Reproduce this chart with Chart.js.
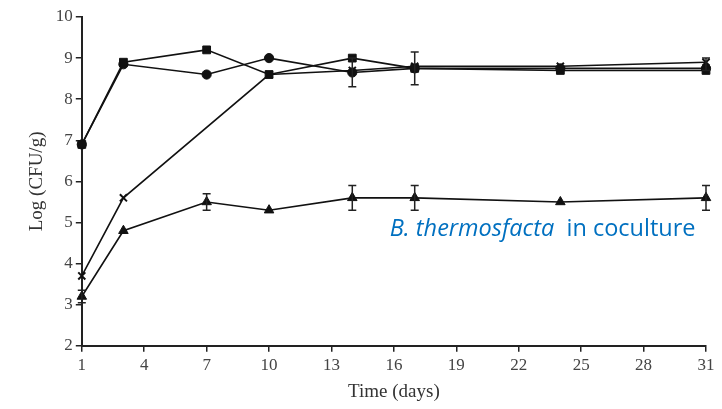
<!DOCTYPE html>
<html>
<head>
<meta charset="utf-8">
<script src="https://cdn.jsdelivr.net/npm/chart.js@4"></script>
<style>
  html, body { margin: 0; padding: 0; background: #fff; }
  #wrap { width: 722px; height: 409px; position: relative; }
</style>
</head>
<body>
<div id="wrap"><canvas id="c"></canvas></div>
<script>
// days and tick labels
const xTicks = [1, 4, 7, 10, 13, 16, 19, 22, 25, 28, 31];
const yTicks = [2, 3, 4, 5, 6, 7, 8, 9, 10];

// series: [day, log CFU/g]
const squareDays = [1, 3, 7, 10, 14, 17, 24, 31];
const squareVals = [6.9, 8.9, 9.2, 8.6, 9.0, 8.75, 8.7, 8.7];

const circleDays = [1, 3, 7, 10, 14, 17, 24, 31];
const circleVals = [6.9, 8.85, 8.6, 9.0, 8.65, 8.75, 8.75, 8.75];

const crossDays = [1, 3, 10, 14, 17, 24, 31];
const crossVals = [3.7, 5.6, 8.6, 8.7, 8.8, 8.8, 8.9];

const triDays = [1, 3, 7, 10, 14, 17, 24, 31];
const triVals = [3.2, 4.8, 5.5, 5.3, 5.6, 5.6, 5.5, 5.6];

// error bars: [day, value, +/-]
const errDays = [14, 17, 31, 1, 7, 14, 17, 31];
const errVals = [8.65, 8.75, 8.85, 3.2, 5.5, 5.6, 5.6, 5.6];
const errSize = [0.35, 0.4, 0.15, 0.15, 0.2, 0.3, 0.3, 0.3];

const toPts = (xs, ys) => xs.map((d, i) => ({ x: d, y: ys[i] }));

const errorBars = {
  id: 'errorBars',
  afterDatasetsDraw(chart) {
    const { ctx, scales: { x, y } } = chart;
    ctx.save();
    ctx.strokeStyle = '#222';
    ctx.lineWidth = 1.5;
    errDays.forEach((d, i) => {
      const px = x.getPixelForValue(d);
      const top = y.getPixelForValue(errVals[i] + errSize[i]);
      const bot = y.getPixelForValue(errVals[i] - errSize[i]);
      ctx.beginPath();
      ctx.moveTo(px, top); ctx.lineTo(px, bot);
      ctx.moveTo(px - 4, top); ctx.lineTo(px + 4, top);
      ctx.moveTo(px - 4, bot); ctx.lineTo(px + 4, bot);
      ctx.stroke();
    });
    ctx.restore();
  }
};

// blue note inside the plot
const labelText = {
  id: 'labelText',
  afterDraw(chart) {
    const { ctx, scales: { x, y } } = chart;
    const px = x.getPixelForValue(15.8);
    const py = y.getPixelForValue(4.83);
    ctx.save();
    ctx.fillStyle = '#0070C0';
    ctx.textBaseline = 'middle';
    ctx.font = 'italic 23.5px "Open Sans"';
    const a = 'B. thermosfacta';
    ctx.fillText(a, px, py);
    const w = ctx.measureText(a).width;
    ctx.font = '23.5px "Open Sans"';
    ctx.fillText('  in coculture', px + w, py);
    ctx.restore();
  }
};

const common = {
  borderColor: '#111',
  backgroundColor: '#111',
  borderWidth: 1.6,
  pointBorderWidth: 1,
  showLine: true,
  tension: 0,
  clip: false
};

new Chart(document.getElementById('c'), {
  type: 'scatter',
  data: {
    datasets: [
      { ...common, data: toPts(squareDays, squareVals), pointStyle: 'rect', pointRadius: 5.5 },
      { ...common, data: toPts(circleDays, circleVals), pointStyle: 'circle', pointRadius: 4.6 },
      { ...common, data: toPts(crossDays, crossVals), pointStyle: 'crossRot', pointRadius: 5, pointBorderWidth: 2 },
      { ...common, data: toPts(triDays, triVals), pointStyle: 'triangle', pointRadius: 5.5 }
    ]
  },
  options: {
    responsive: true,
    maintainAspectRatio: false,
    animation: false,
    layout: { padding: { left: 22, right: 16, top: 17, bottom: 4 } },
    plugins: { legend: { display: false }, tooltip: { enabled: false } },
    scales: {
      x: {
        type: 'linear',
        min: 1, max: 31,
        afterBuildTicks: s => { s.ticks = xTicks.map(v => ({ value: v })); },
        grid: { drawOnChartArea: false, color: '#222', tickLength: 6, lineWidth: 1.5 },
        border: { color: '#222', width: 2 },
        ticks: { color: '#444', font: { family: 'Liberation Serif', size: 17 }, padding: 4 },
        title: { display: true, text: 'Time (days)', color: '#333',
                 font: { family: 'Liberation Serif', size: 19 }, padding: { top: 0, bottom: 2 } }
      },
      y: {
        min: 2, max: 10,
        afterBuildTicks: s => { s.ticks = yTicks.map(v => ({ value: v })); },
        grid: { drawOnChartArea: false, color: '#222', tickLength: 6, lineWidth: 1.5 },
        border: { color: '#222', width: 2 },
        ticks: { color: '#444', font: { family: 'Liberation Serif', size: 17 }, padding: 3 },
        title: { display: true, text: 'Log (CFU/g)', color: '#333',
                 font: { family: 'Liberation Serif', size: 19 }, padding: { bottom: 4 } }
      }
    }
  },
  plugins: [errorBars, labelText]
});
</script>
</body>
</html>
